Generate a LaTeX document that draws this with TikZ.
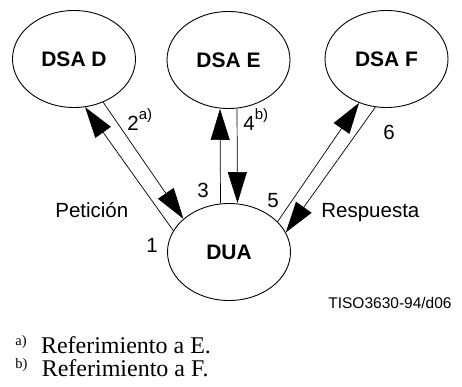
\documentclass[tikz,border=0pt]{standalone}
\usepackage{fontspec}
\setmainfont{Liberation Serif}
\setsansfont{Liberation Sans}
\usetikzlibrary{shapes.geometric,arrows.meta}
\tikzstyle{vertex}=[draw,ellipse,line width=0.9pt,minimum width=123pt,minimum height=97pt,inner sep=0pt]
\tikzstyle{lbl}=[inner sep=0pt,anchor=base west,font=\sffamily\fontsize{20.5}{24}\selectfont]
\tikzstyle{note}=[inner sep=0pt,anchor=base west,font=\rmfamily\fontsize{24}{26}\selectfont]
\newcommand{\supnote}[1]{\raisebox{0.55em}{\fontsize{15}{16}\selectfont #1}}
\newcommand{\footmark}[1]{\raisebox{0.3em}{\fontsize{14.5}{15}\selectfont #1}}

\begin{document}
\begin{tikzpicture}[x=1pt,y=-1pt,line width=0.7pt,>={Triangle[length=31pt,width=19pt]}]
\tikzstyle{vertex}=[draw,ellipse,line width=0.9pt,minimum width=123pt,minimum height=97pt,inner sep=0pt,font=\sffamily\bfseries\fontsize{21}{24}\selectfont]
  \useasboundingbox (0,0) rectangle (462,387);
  \foreach \place/\name/\txt in {{(74,59)/D/DSA D},
                                 {(228.5,60)/E/DSA E},
                                 {(386.5,59)/F/DSA F},
                                 {(229,252)/DUA/DUA}}
    \node[vertex] (\name) at \place {\txt};
  % request and referral arrows
  \draw[->] (DUA.159) -- (D.-77);
  \draw[->] (D.-56) -- (DUA.144);
  \draw[->] ([xshift=-8.5pt]DUA.north) -- ([xshift=-8.5pt]E.south);
  \draw[->] ([xshift=8.5pt]E.south) -- ([xshift=8.5pt]DUA.north);
  \draw[->] (DUA.32) -- (F.-122);
  \draw[->] (F.-103) -- (DUA.19);
  % numbers
  \foreach \place/\name/\txt in {{(146,252)/l1/1},
                                 {(127,131)/l2/2\supnote{a)}},
                                 {(197,197)/l3/3},
                                 {(243,131)/l4/4\supnote{b)}},
                                 {(267,207)/l5/5},
                                 {(383,140)/l6/6},
                                 {(55,217)/pet/Petición},
                                 {(321,217)/resp/Respuesta}}
    \node[lbl] (\name) at \place {\txt};
  \node[lbl,font=\sffamily\fontsize{15.5}{17}\selectfont] (tiso) at (328,308) {TISO3630-94/d06};
  % footnotes
  \node[note] (fa) at (15,353) {\footmark{a)}\hspace{0.6em}Referimiento a E.};
  \node[note] (fb) at (15,376) {\footmark{b)}\hspace{0.6em}Referimiento a F.};
\end{tikzpicture}
\end{document}
